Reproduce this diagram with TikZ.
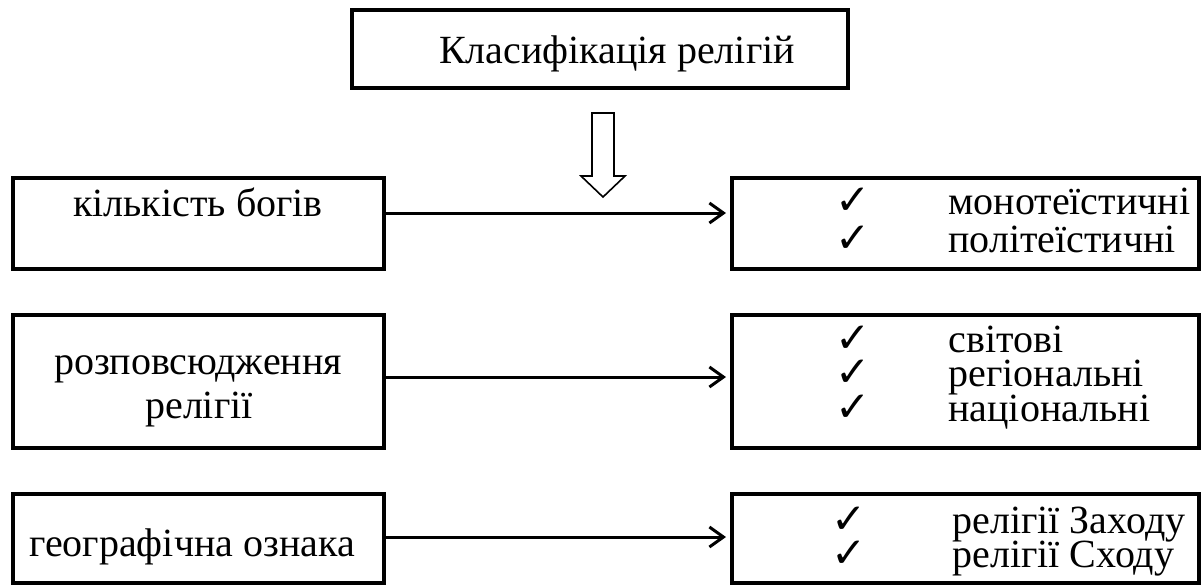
\documentclass[tikz,border=0pt]{standalone}
\usepackage{fontspec}
\setmainfont{Liberation Serif}
\newfontfamily\symfont{DejaVu Sans}
\usetikzlibrary{arrows.meta}
\tikzset{
  box/.style={draw, line width=2pt, inner sep=0pt, minimum width=#1},
  txt/.style={inner sep=0pt, anchor=base, font=\fontsize{20pt}{24pt}\selectfont},
  txtw/.style={inner sep=0pt, anchor=base west, font=\fontsize{20pt}{24pt}\selectfont},
  chk/.style={inner sep=0pt, anchor=base, font=\symfont\fontsize{21pt}{24pt}\selectfont},
  conn/.style={line width=1.5pt, -{Straight Barb[length=7pt,width=10pt,line width=1.5pt]}, shorten >=2pt},
}
\begin{document}
\begin{tikzpicture}[x=0.5pt,y=-0.5pt]
\useasboundingbox (0,0) rectangle (1203,586);
\fill[white] (0,0) rectangle (1203,586);
% top box
\node[box=248pt, minimum height=39pt] (top) at (600,49) {};
\node[txt] (toptxt) at (617,63) {Класифікація релігій};
% hollow arrow
\draw[line width=0.8pt, line join=miter] (592,113) -- (614,113) -- (614,176) -- (625,176) -- (603,197) -- (581,176) -- (592,176) -- cycle;
% left boxes
\node[box=185.5pt, minimum height=45.5pt] (k1) at (198.5,223.5) {};
\node[box=185.5pt, minimum height=66.5pt] (k2) at (198.5,381.5) {};
\node[box=185.5pt, minimum height=44.5pt] (k3) at (198.5,538.5) {};
\node[txt] (k1t) at (198,216) {кількість богів};
\node[txt] (k2t1) at (198,374) {розповсюдження};
\node[txt] (k2t2) at (199,418) {релігії};
\node[txt] (k3t) at (192,556) {географічна ознака};
% right boxes
\node[box=233.5pt, minimum height=45.5pt] (m1) at (965.5,223.5) {};
\node[box=233.5pt, minimum height=66.5pt] (m2) at (965.5,381.5) {};
\node[box=233.5pt, minimum height=44.5pt] (m3) at (965.5,538.5) {};
\draw[gray!60, line width=0.5pt] (m1.north east) ++(1pt,0) coordinate (edgeTop) -- (edgeTop |- 0,586) coordinate (edgeBot);
% right box contents
\node[chk] (c11) at (853,214) {✓};
\node[txtw] (m1a) at (948,214) {монотеїстичні};
\node[chk] (c12) at (853,252) {✓};
\node[txtw] (m1b) at (948,252) {політеїстичні};
\node[chk] (c21) at (853,352) {✓};
\node[txtw] (m2a) at (948,352) {світові};
\node[chk] (c22) at (853,386) {✓};
\node[txtw] (m2b) at (948,386) {регіональні};
\node[chk] (c23) at (853,421) {✓};
\node[txtw] (m2c) at (948,421) {національні};
\node[chk] (c31) at (849,533) {✓};
\node[txtw] (m3a) at (952,533) {релігії Заходу};
\node[chk] (c32) at (849,567) {✓};
\node[txtw] (m3b) at (952,567) {релігії Сходу};
% connectors
\draw[conn] ([yshift=5.25pt]k1.east) -- ([yshift=5.25pt]m1.west);
\draw[conn] ([yshift=2.25pt]k2.east) -- ([yshift=2.25pt]m2.west);
\draw[conn] ([yshift=0.75pt]k3.east) -- ([yshift=0.75pt]m3.west);
\end{tikzpicture}
\end{document}
